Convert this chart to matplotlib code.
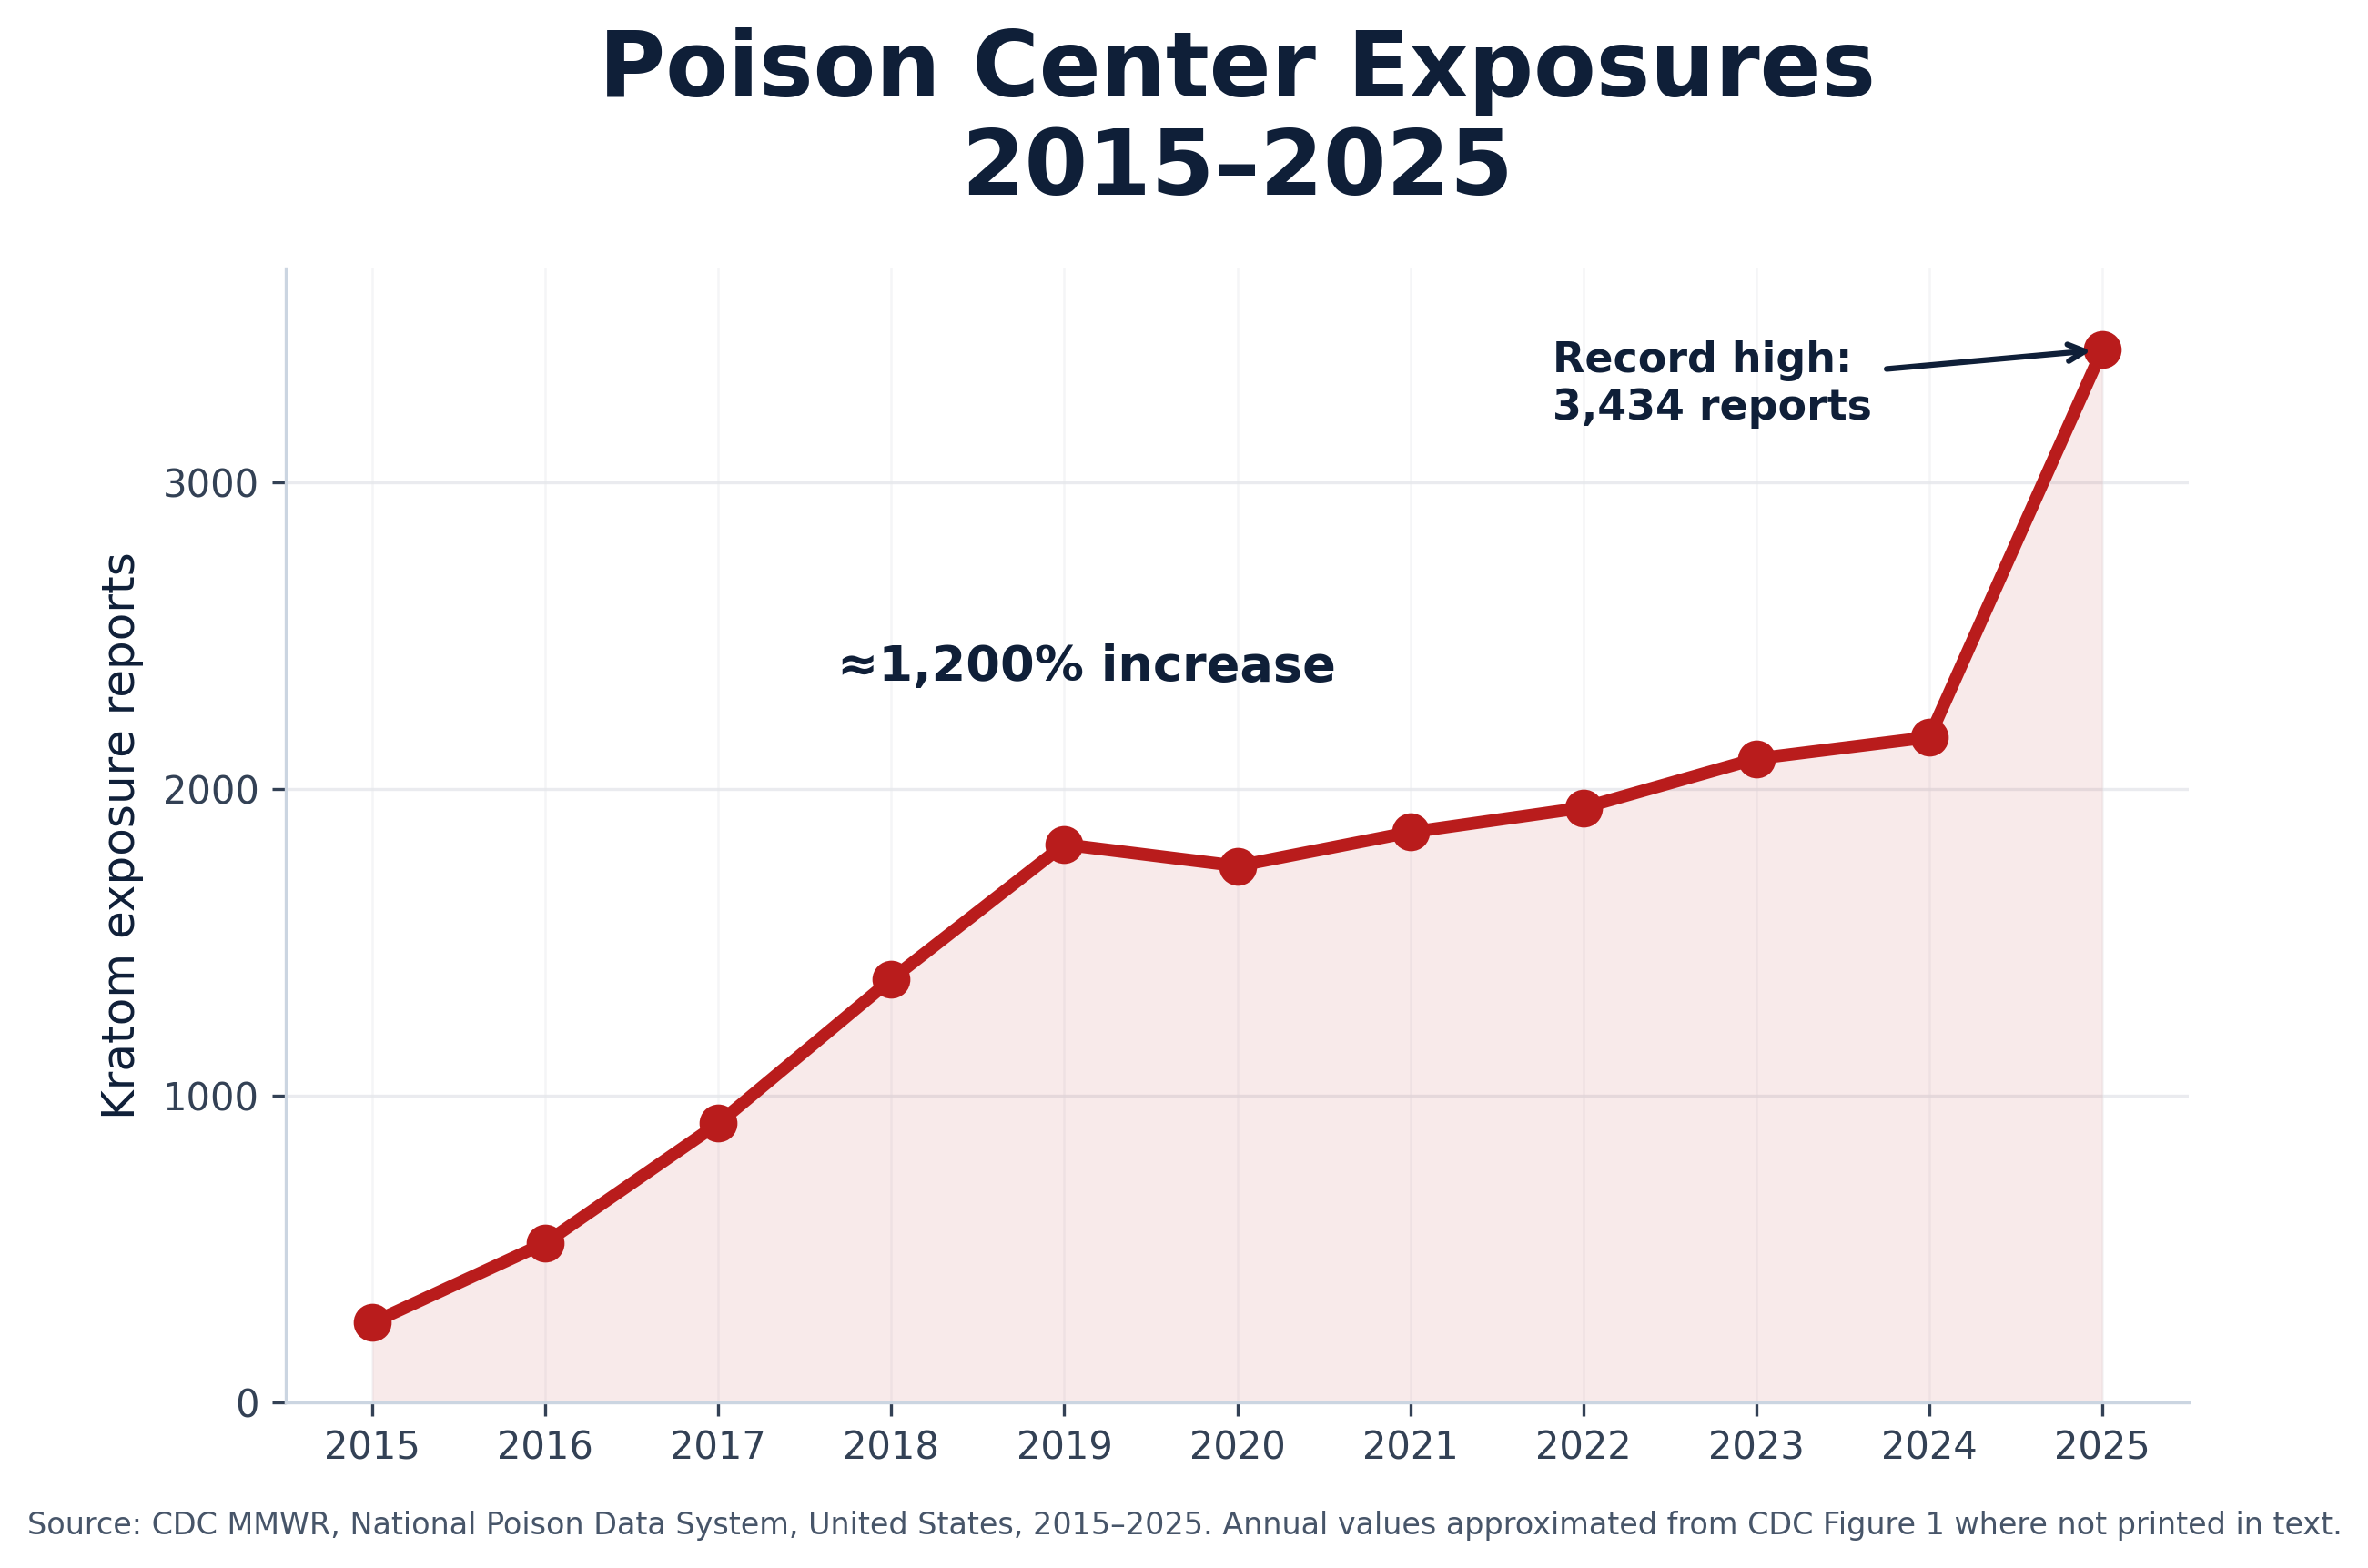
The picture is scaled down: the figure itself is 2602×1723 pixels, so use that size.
import matplotlib
matplotlib.use("Agg")
import matplotlib.pyplot as plt

years = [2015, 2016, 2017, 2018, 2019, 2020, 2021, 2022, 2023, 2024, 2025]
reports = [260, 520, 910, 1380, 1820, 1750, 1860, 1940, 2100, 2170, 3434]

title = "Poison Center Exposures\n2015\u20132025"
ylabel = "Kratom exposure reports"
increase_label = "\u22481,200% increase"
record_label = "Record high:\n3,434 reports"
source = ("Source: CDC MMWR, National Poison Data System, United States, 2015\u20132025. "
          "Annual values approximated from CDC Figure 1 where not printed in text.")

RED = "#b91c1c"
NAVY = "#0f1f38"
TICK = "#334155"
SPINE = "#cbd5e1"

plt.rcParams['font.family'] = ['DejaVu Sans']
fig = plt.figure(figsize=(2603/300, 1723/300), dpi=300)
ax = fig.add_axes([0.1206, 0.1056, 0.8034, 0.7234])

ax.fill_between(years, reports, 0, color=RED, alpha=0.09, linewidth=0)
ax.plot(years, reports, color=RED, linewidth=3.3, marker='o', markersize=9,
        solid_capstyle='round', zorder=3)

ax.set_xlim(2014.5, 2025.5)
ax.set_ylim(0, 3700)
ax.set_xticks(years)
ax.set_xticklabels([str(y) for y in years])
ax.set_yticks([0, 1000, 2000, 3000])

ax.grid(True, axis='y', color="#e5e7eb", linewidth=0.8, alpha=0.8)
ax.grid(True, axis='x', color="#e5e7eb", linewidth=0.6, alpha=0.4)
ax.set_axisbelow(True)

for s in ['top', 'right']:
    ax.spines[s].set_visible(False)
for s in ['left', 'bottom']:
    ax.spines[s].set_color(SPINE)
    ax.spines[s].set_linewidth(0.8)

ax.tick_params(axis='both', colors=TICK, labelsize=10, length=3.5, width=0.8)
ax.set_ylabel(ylabel, fontsize=12, color=NAVY, labelpad=5)

ax.text(2019.13, 2400, increase_label, fontsize=13, fontweight='bold',
        color=NAVY, ha='center', va='center')

ax.annotate(record_label, xy=(2025, 3434), xytext=(2021.82, 3320),
            fontsize=11, fontweight='bold', color=NAVY, ha='left', va='center',
            arrowprops=dict(arrowstyle='->', color=NAVY, lw=1.5,
                            shrinkA=2, shrinkB=3))

fig.text(0.5222, 0.923, title, fontsize=24, fontweight='bold', color=NAVY,
         ha='center', va='center', linespacing=1.15)

fig.text(0.0115, 0.027, source, fontsize=8, color="#475569", ha='left', va='center')

fig.savefig("out.png", dpi=300)
